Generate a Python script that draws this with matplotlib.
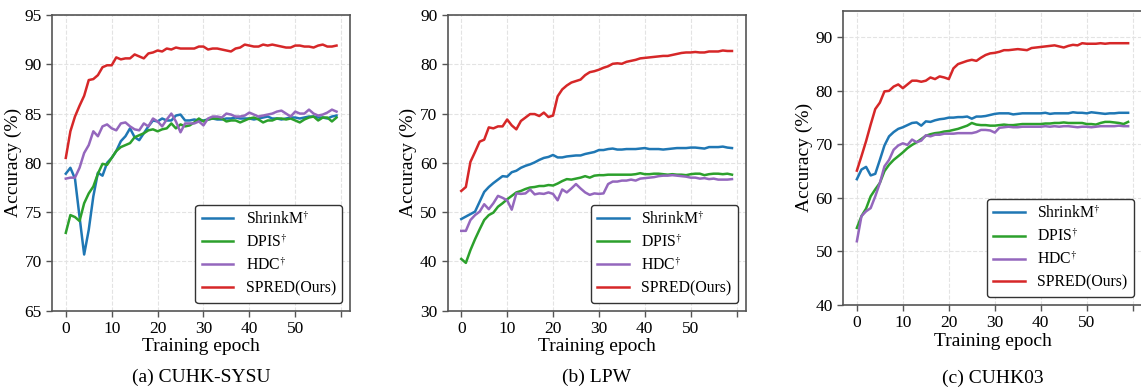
import numpy as np
import matplotlib
matplotlib.use("Agg")
import matplotlib.pyplot as plt

plt.rcParams['font.family'] = ['Liberation Serif', 'DejaVu Serif']
plt.rcParams['mathtext.fontset'] = 'stix'

epochs = np.arange(60)
methods = ['ShrinkM$^{\\dagger}$', 'DPIS$^{\\dagger}$', 'HDC$^{\\dagger}$', 'SPRED(Ours)']
colors = ['#1f77b4', '#2ca02c', '#9467bd', '#d62728']

# (a) CUHK-SYSU
sysu_shrink = [78.9, 79.5, 78.4, 74.5, 70.7, 73.2, 76.6, 79.0, 78.7, 80.0,
               80.5, 81.2, 82.2, 82.7, 83.5, 82.6, 82.3, 83.0, 83.7, 84.3,
               84.2, 84.5, 84.3, 84.3, 84.8, 84.9, 84.3, 84.3, 84.4, 84.3,
               84.3, 84.4, 84.5, 84.4, 84.4, 84.5, 84.5, 84.6, 84.5, 84.5,
               84.5, 84.4, 84.5, 84.6, 84.7, 84.5, 84.5, 84.4, 84.5, 84.6,
               84.6, 84.5, 84.6, 84.7, 84.7, 84.6, 84.6, 84.5, 84.7, 84.8]
sysu_dpis = [72.9, 74.7, 74.5, 74.1, 75.9, 76.9, 77.6, 78.9, 79.9, 79.8,
             80.5, 81.2, 81.6, 81.8, 82.0, 82.6, 82.8, 83.0, 83.3, 83.4,
             83.2, 83.4, 83.5, 84.0, 83.5, 83.9, 83.7, 83.8, 84.1, 84.5,
             84.2, 84.4, 84.5, 84.5, 84.5, 84.2, 84.3, 84.3, 84.1, 84.3,
             84.5, 84.6, 84.4, 84.1, 84.3, 84.3, 84.5, 84.5, 84.4, 84.5,
             84.3, 84.1, 84.4, 84.6, 84.7, 84.3, 84.6, 84.6, 84.2, 84.6]
sysu_hdc = [78.4, 78.5, 78.5, 79.5, 81.0, 81.8, 83.2, 82.7, 83.7, 83.9,
            83.5, 83.3, 84.0, 84.1, 83.7, 83.4, 83.3, 84.0, 83.7, 84.5,
            84.2, 83.7, 84.4, 85.0, 84.2, 83.1, 84.0, 84.0, 84.0, 84.2,
            83.8, 84.5, 84.7, 84.7, 84.6, 85.0, 84.9, 84.7, 84.7, 84.8,
            85.1, 84.9, 84.7, 84.8, 84.9, 85.0, 85.2, 85.3, 85.0, 84.7,
            85.2, 85.0, 85.0, 85.4, 85.0, 84.8, 84.9, 85.1, 85.4, 85.2]
sysu_spred = [80.5, 83.2, 84.7, 85.8, 86.8, 88.4, 88.5, 88.9, 89.7, 89.9,
              89.9, 90.7, 90.5, 90.6, 90.6, 91.0, 90.8, 90.6, 91.1, 91.2,
              91.4, 91.3, 91.6, 91.5, 91.7, 91.6, 91.6, 91.6, 91.6, 91.8,
              91.8, 91.5, 91.6, 91.6, 91.5, 91.4, 91.3, 91.6, 91.7, 92.0,
              91.9, 91.8, 91.8, 92.0, 91.9, 92.0, 91.9, 91.8, 91.7, 91.7,
              91.9, 91.9, 91.8, 91.8, 91.7, 91.9, 92.0, 91.8, 91.8, 91.9]

# (b) LPW
lpw_shrink = [48.6, 49.1, 49.6, 50.1, 52.1, 54.1, 55.1, 55.9, 56.6, 57.3,
              57.2, 58.1, 58.4, 59.0, 59.4, 59.7, 60.1, 60.6, 61.0, 61.2,
              61.6, 61.1, 61.1, 61.3, 61.4, 61.5, 61.5, 61.8, 62.0, 62.2,
              62.6, 62.6, 62.8, 62.9, 62.7, 62.7, 62.8, 62.8, 62.8, 62.9,
              63.0, 62.8, 62.8, 62.8, 62.7, 62.8, 62.9, 63.0, 63.0, 63.0,
              63.1, 63.1, 63.0, 62.9, 63.2, 63.2, 63.2, 63.3, 63.1, 63.0]
lpw_dpis = [40.5, 39.7, 42.3, 44.5, 46.5, 48.4, 49.4, 49.9, 51.1, 51.8,
            52.6, 53.3, 54.0, 54.3, 54.7, 55.0, 55.1, 55.3, 55.3, 55.5,
            55.4, 55.8, 56.3, 56.7, 56.6, 56.8, 57.0, 57.3, 57.0, 57.4,
            57.5, 57.5, 57.6, 57.6, 57.6, 57.6, 57.6, 57.6, 57.7, 57.9,
            57.7, 57.7, 57.8, 57.8, 57.7, 57.6, 57.7, 57.6, 57.6, 57.5,
            57.7, 57.8, 57.8, 57.5, 57.7, 57.8, 57.8, 57.7, 57.8, 57.6]
lpw_hdc = [46.2, 46.2, 48.4, 49.4, 50.1, 51.6, 50.6, 51.8, 53.3, 52.9,
           52.4, 50.5, 53.8, 53.7, 53.8, 54.6, 53.6, 53.8, 53.7, 54.0,
           53.7, 52.4, 54.6, 54.0, 54.8, 55.7, 54.8, 54.0, 53.5, 53.8,
           53.7, 53.8, 55.7, 56.2, 56.2, 56.4, 56.4, 56.6, 56.4, 56.8,
           56.9, 57.0, 57.1, 57.3, 57.4, 57.4, 57.5, 57.4, 57.3, 57.2,
           57.0, 57.0, 56.8, 56.9, 56.7, 56.8, 56.6, 56.6, 56.6, 56.7]
lpw_spred = [54.3, 55.1, 60.2, 62.2, 64.3, 64.7, 67.2, 67.0, 67.4, 67.4,
             68.8, 67.6, 66.8, 68.5, 69.2, 69.9, 69.9, 69.5, 70.2, 69.3,
             69.6, 73.5, 74.9, 75.7, 76.3, 76.6, 76.9, 77.8, 78.4, 78.6,
             78.9, 79.3, 79.6, 80.1, 80.2, 80.1, 80.5, 80.7, 80.9, 81.2,
             81.3, 81.4, 81.5, 81.6, 81.7, 81.7, 81.9, 82.1, 82.3, 82.4,
             82.4, 82.5, 82.4, 82.4, 82.6, 82.6, 82.6, 82.8, 82.7, 82.7]

# (c) CUHK03
c03_shrink = [63.5, 65.3, 65.8, 64.2, 64.5, 67.1, 69.8, 71.5, 72.3, 72.9,
              73.2, 73.6, 74.0, 74.1, 73.5, 74.3, 74.2, 74.5, 74.7, 74.8,
              75.0, 75.0, 75.1, 75.1, 75.2, 74.8, 75.2, 75.2, 75.3, 75.5,
              75.7, 75.8, 75.8, 75.8, 75.6, 75.7, 75.8, 75.8, 75.8, 75.8,
              75.8, 75.9, 75.7, 75.8, 75.8, 75.8, 75.8, 76.0, 75.9, 75.9,
              75.8, 76.0, 75.9, 75.8, 75.7, 75.8, 75.8, 75.9, 75.9, 75.9]
c03_dpis = [54.4, 56.6, 58.0, 60.3, 61.6, 62.8, 65.0, 66.2, 67.1, 67.8,
            68.5, 69.3, 69.9, 70.4, 71.0, 71.6, 71.9, 72.1, 72.2, 72.4,
            72.5, 72.7, 72.9, 73.2, 73.5, 74.0, 73.7, 73.6, 73.6, 73.5,
            73.5, 73.6, 73.7, 73.6, 73.6, 73.7, 73.8, 73.8, 73.8, 73.8,
            73.8, 73.9, 73.9, 74.0, 74.0, 74.1, 74.0, 74.0, 74.0, 74.0,
            73.8, 73.8, 73.7, 74.0, 74.2, 74.2, 74.1, 74.0, 73.8, 74.2]
c03_hdc = [51.9, 56.6, 57.5, 58.1, 60.3, 62.8, 65.9, 67.1, 69.0, 69.8,
           70.2, 69.9, 70.9, 70.4, 70.7, 71.7, 71.5, 71.8, 71.8, 72.0,
           72.0, 72.0, 72.1, 72.1, 72.1, 72.1, 72.3, 72.7, 72.7, 72.6,
           72.2, 73.1, 73.2, 73.3, 73.2, 73.2, 73.3, 73.3, 73.3, 73.3,
           73.3, 73.4, 73.3, 73.4, 73.3, 73.4, 73.4, 73.3, 73.2, 73.3,
           73.3, 73.2, 73.3, 73.4, 73.4, 73.4, 73.4, 73.5, 73.4, 73.4]
c03_spred = [65.1, 67.8, 70.6, 73.7, 76.6, 77.8, 79.9, 80.0, 80.8, 81.2,
             80.5, 81.2, 81.9, 81.9, 81.7, 81.9, 82.5, 82.2, 82.7, 82.5,
             82.2, 84.2, 85.0, 85.3, 85.6, 85.8, 85.6, 86.2, 86.7, 87.0,
             87.1, 87.3, 87.6, 87.6, 87.7, 87.8, 87.7, 87.6, 88.0, 88.1,
             88.2, 88.3, 88.4, 88.5, 88.3, 88.1, 88.4, 88.6, 88.5, 88.9,
             88.8, 88.8, 88.8, 88.9, 88.8, 88.9, 88.9, 88.9, 88.9, 88.9]

panels = [
    ('(a) CUHK-SYSU', [sysu_shrink, sysu_dpis, sysu_hdc, sysu_spred], (65, 95), range(65, 96, 5)),
    ('(b) LPW', [lpw_shrink, lpw_dpis, lpw_hdc, lpw_spred], (30, 90), range(30, 91, 10)),
    ('(c) CUHK03', [c03_shrink, c03_dpis, c03_hdc, c03_spred], (40, 95), range(40, 91, 10)),
]
boxes = [[0.0458, 0.2054, 0.261, 0.7562],
         [0.3924, 0.2054, 0.261, 0.7562],
         [0.7391, 0.2200, 0.2615, 0.7530]]
caption_y = [0.036, 0.036, 0.033]

fig = plt.figure(figsize=(11.41, 3.91), dpi=100)

for (title, series, ylim, yticks), box, cy in zip(panels, boxes, caption_y):
    ax = fig.add_axes(box)
    for vals, name, c in zip(series, methods, colors):
        ax.plot(epochs, vals, color=c, lw=1.8, label=name)
    ax.set_ylim(*ylim)
    ax.set_yticks(list(yticks))
    ax.set_xticks(range(0, 61, 10))
    ax.set_xticklabels(['0', '10', '20', '30', '40', '50', ''])
    ax.tick_params(labelsize=12.5, colors='#555555', labelcolor='black', width=1.0, length=4)
    for s in ax.spines.values():
        s.set_color('#555555')
        s.set_linewidth(1.2)
    ax.grid(True, ls='--', color='#e3e3e3', lw=0.8)
    ax.set_axisbelow(True)
    ax.set_xlabel('Training epoch', fontsize=14, labelpad=1)
    ax.set_ylabel('Accuracy (%)', fontsize=14, labelpad=2)
    leg = ax.legend(loc='lower right', fontsize=11.3, fancybox=True, framealpha=1,
                    edgecolor='#333333', labelspacing=0.42)
    leg.get_frame().set_linewidth(1.0)
    fig.text(box[0] + box[2] / 2, cy, title, ha='center', va='center', fontsize=14)

fig.savefig('out.png', dpi=100)
